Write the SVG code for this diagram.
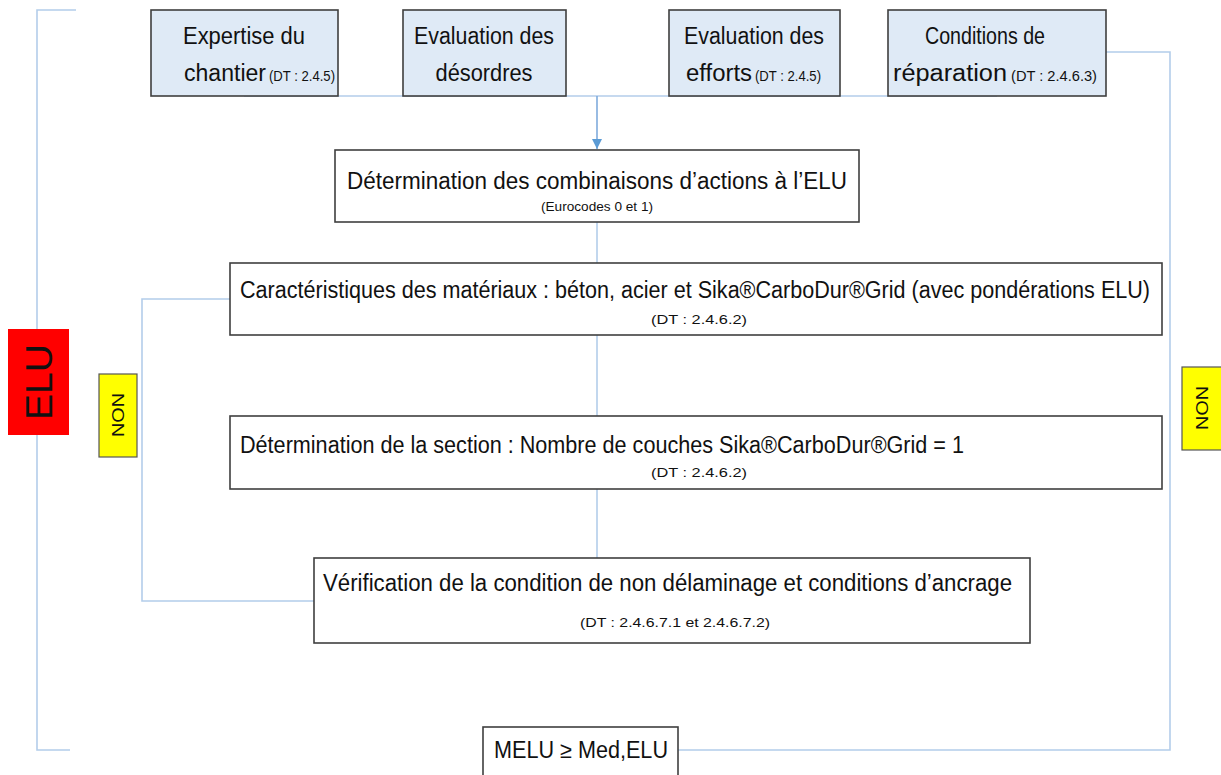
<svg xmlns="http://www.w3.org/2000/svg" width="1221" height="775" viewBox="0 0 1221 775">
<style>
.box{fill:#fff;stroke:#3f3f3f;stroke-width:1.6}
.top{fill:#dfeaf6;stroke:#3f3f3f;stroke-width:1.6}
.c{fill:none;stroke:#b3cdea;stroke-width:1.6}
.t{font-family:"Liberation Sans",Arial,sans-serif;fill:#111;font-size:23px}
.s{font-family:"Liberation Sans",Arial,sans-serif;fill:#111;font-size:12.5px}
.m{text-anchor:middle}
</style>
<defs>
<marker id="ah" viewBox="0 0 10 10" refX="10" refY="5" markerWidth="10" markerHeight="10" markerUnits="userSpaceOnUse" orient="auto">
<path d="M0,0 L10,5 L0,10 z" fill="#5b9bd5"/>
</marker>
</defs>
<g id="connectors">
<polyline class="c" points="76,10 37,10 37,750 70,750"/>
<line class="c" x1="244" y1="96" x2="997" y2="96"/>
<line x1="597" y1="96" x2="597" y2="149" stroke="#7fabdc" stroke-width="1.6" marker-end="url(#ah)"/>
<line class="c" x1="597" y1="222" x2="597" y2="263"/>
<line class="c" x1="597" y1="335" x2="597" y2="416"/>
<line class="c" x1="597" y1="489" x2="597" y2="558"/>
<polyline class="c" points="230,299 142,299 142,601 314,601"/>
<polyline class="c" points="1106,52 1170,52 1170,750 678,750"/>
</g>
<g id="n1"><rect class="top" x="151" y="10" width="187" height="86"/>
<text class="t m" x="244" y="44" textLength="122" lengthAdjust="spacingAndGlyphs">Expertise du</text>
<text class="t" x="184" y="81"><tspan textLength="82" lengthAdjust="spacingAndGlyphs">chantier</tspan><tspan font-size="14" dx="3" textLength="66" lengthAdjust="spacingAndGlyphs">(DT : 2.4.5)</tspan></text></g>
<g id="n2"><rect class="top" x="403" y="10" width="163" height="86"/>
<text class="t m" x="484" y="44" textLength="140" lengthAdjust="spacingAndGlyphs">Evaluation des</text>
<text class="t m" x="484" y="81" textLength="97" lengthAdjust="spacingAndGlyphs">désordres</text></g>
<g id="n3"><rect class="top" x="669" y="10" width="171" height="86"/>
<text class="t m" x="754" y="44" textLength="140" lengthAdjust="spacingAndGlyphs">Evaluation des</text>
<text class="t" x="686" y="81"><tspan textLength="66" lengthAdjust="spacingAndGlyphs">efforts</tspan><tspan font-size="14" dx="3" textLength="66" lengthAdjust="spacingAndGlyphs">(DT : 2.4.5)</tspan></text></g>
<g id="n4"><rect class="top" x="888" y="10" width="218" height="86"/>
<text class="t m" x="985" y="44" textLength="120" lengthAdjust="spacingAndGlyphs">Conditions de</text>
<text class="t" x="893" y="81"><tspan textLength="114" lengthAdjust="spacingAndGlyphs">réparation</tspan><tspan font-size="14" dx="4" textLength="86" lengthAdjust="spacingAndGlyphs">(DT : 2.4.6.3)</tspan></text></g>
<g id="n5"><rect class="box" x="335" y="150" width="524" height="72"/>
<text class="t m" x="597" y="189" textLength="500" lengthAdjust="spacingAndGlyphs">Détermination des combinaisons d’actions à l’ELU</text>
<text class="s m" x="597" y="211" textLength="112" lengthAdjust="spacingAndGlyphs">(Eurocodes 0 et 1)</text></g>
<g id="n6"><rect class="box" x="230" y="263" width="932" height="72"/>
<text class="t" x="240" y="298" textLength="910" lengthAdjust="spacingAndGlyphs">Caractéristiques des matériaux : béton, acier et Sika®CarboDur®Grid (avec pondérations ELU)</text>
<text class="s m" x="699" y="324" textLength="96" lengthAdjust="spacingAndGlyphs">(DT : 2.4.6.2)</text></g>
<g id="n7"><rect class="box" x="230" y="416" width="932" height="73"/>
<text class="t" x="240" y="453" textLength="724" lengthAdjust="spacingAndGlyphs">Détermination de la section : Nombre de couches Sika®CarboDur®Grid = 1</text>
<text class="s m" x="699" y="477" textLength="96" lengthAdjust="spacingAndGlyphs">(DT : 2.4.6.2)</text></g>
<g id="n8"><rect class="box" x="314" y="558" width="716" height="85"/>
<text class="t" x="323" y="591" textLength="689" lengthAdjust="spacingAndGlyphs">Vérification de la condition de non délaminage et conditions d’ancrage</text>
<text class="s m" x="675" y="627" textLength="190" lengthAdjust="spacingAndGlyphs">(DT : 2.4.6.7.1 et 2.4.6.7.2)</text></g>
<g id="n9"><rect class="box" x="483" y="727" width="195" height="50"/>
<text class="t" x="494" y="758" textLength="174" lengthAdjust="spacingAndGlyphs">MELU ≥ Med,ELU</text></g>
<g id="elu"><rect x="8" y="329" width="61" height="106" fill="#ff0000"/>
<text transform="translate(52,382) rotate(-90)" class="m" font-family="Liberation Sans,Arial,sans-serif" font-size="36" fill="#111" textLength="76" lengthAdjust="spacingAndGlyphs">ELU</text></g>
<g id="non-left"><rect x="99" y="374" width="38" height="83" fill="#ffff00" stroke="#555" stroke-width="1.2"/>
<text transform="translate(124,415) rotate(-90)" class="m" font-family="Liberation Sans,Arial,sans-serif" font-size="16" fill="#111" textLength="44" lengthAdjust="spacingAndGlyphs">NON</text></g>
<g id="non-right"><rect x="1182" y="367" width="40" height="83" fill="#ffff00" stroke="#555" stroke-width="1.2"/>
<text transform="translate(1196,408) rotate(90)" class="m" font-family="Liberation Sans,Arial,sans-serif" font-size="16" fill="#111" textLength="44" lengthAdjust="spacingAndGlyphs">NON</text></g>
</svg>
